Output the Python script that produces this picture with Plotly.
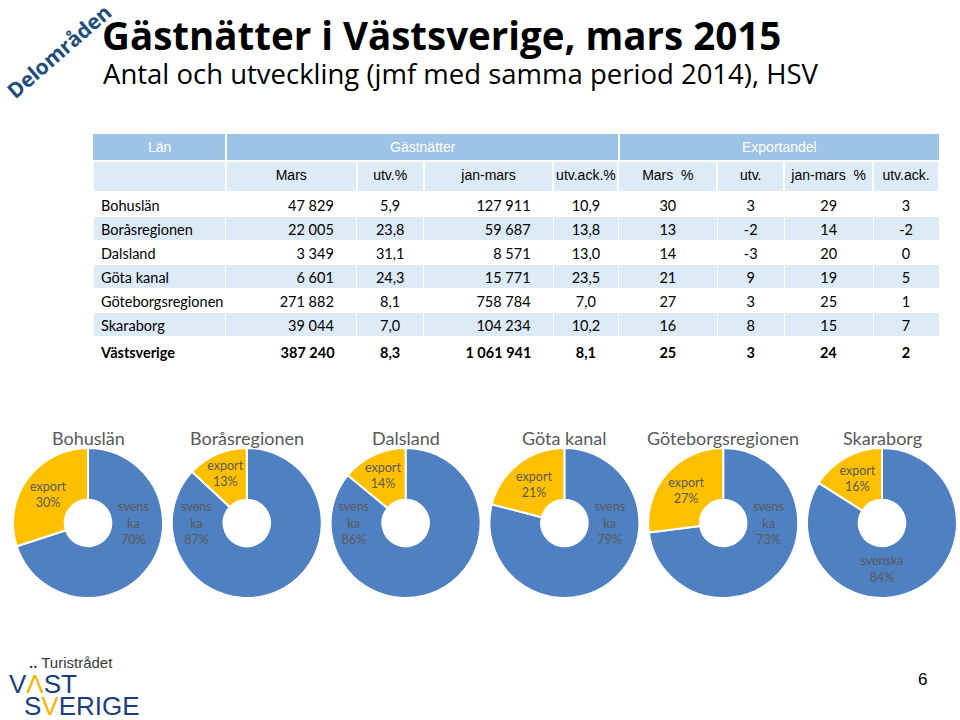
import plotly.graph_objects as go

# ---------------- data ----------------
regions = ["Bohuslän", "Boråsregionen", "Dalsland", "Göta kanal",
           "Göteborgsregionen", "Skaraborg", "Västsverige"]
mars = [47829, 22005, 3349, 6601, 271882, 39044, 387240]
utv = [5.9, 23.8, 31.1, 24.3, 8.1, 7.0, 8.3]
jan_mars = [127911, 59687, 8571, 15771, 758784, 104234, 1061941]
utv_ack = [10.9, 13.8, 13.0, 23.5, 7.0, 10.2, 8.1]
exp_mars = [30, 13, 14, 21, 27, 16, 25]
exp_utv = [3, -2, -3, 9, 3, 8, 3]
exp_jan_mars = [29, 14, 20, 19, 25, 15, 24]
exp_utv_ack = [3, -2, 0, 5, 1, 7, 2]

top_headers = ["Län", "Gästnätter", "Exportandel"]
sub_headers = ["", "Mars", "utv.%", "jan-mars", "utv.ack.%",
               "Mars\u00a0\u00a0%", "utv.", "jan-mars\u00a0\u00a0%", "utv.ack."]

pie_regions = ["Bohuslän", "Boråsregionen", "Dalsland", "Göta kanal",
               "Göteborgsregionen", "Skaraborg"]
pie_svenska = [70, 87, 86, 79, 73, 84]
pie_export = [30, 13, 14, 21, 27, 16]
pie_svenska_text = ["svens<br>ka", "svens<br>ka", "svens<br>ka", "svens<br>ka",
                    "svens<br>ka", "svenska"]

# ---------------- helpers ----------------
W, H = 960, 720
NB = "\u00a0"


def px(x):
    return x / W


def py(y):
    return 1 - y / H


def fmt_int(v):
    return f"{v:,}".replace(",", " ")


def fmt_dec(v):
    return f"{v:.1f}".replace(".", ",")


def bold_last(col):
    return [f"<b>{t}</b>" if i == len(col) - 1 else t for i, t in enumerate(col)]


cols = [
    regions,
    [fmt_int(v) + NB * 4 for v in mars],
    [fmt_dec(v) for v in utv],
    [fmt_int(v) + NB * 4 for v in jan_mars],
    [fmt_dec(v) for v in utv_ack],
    [str(v) for v in exp_mars],
    [str(v) for v in exp_utv],
    [str(v) for v in exp_jan_mars],
    [str(v) for v in exp_utv_ack],
]
cols = [bold_last(c) for c in cols]

band = ["#FFFFFF" if i % 2 == 0 else "#DDEBF7" for i in range(len(regions))]
col_widths = [133, 131, 67, 130, 65, 99, 67, 89, 66]
body_font = "Lato, Carlito, Calibri, sans-serif"
head_font = "Liberation Sans Narrow, Arial Narrow, Liberation Sans, Arial, sans-serif"

fig = go.Figure()

# sub header + body
fig.add_trace(go.Table(
    domain=dict(x=[px(93), px(940)], y=[py(385), py(161)]),
    columnwidth=col_widths,
    header=dict(values=sub_headers, fill_color="#DDEBF7", height=31,
                line=dict(color="white", width=2),
                font=dict(family=head_font, size=14, color="black"),
                align="center"),
    cells=dict(values=cols,
               fill_color=[band] * len(cols),
               line=dict(color="white", width=1),
               height=24,
               font=dict(family=body_font, size=14.5, color="black"),
               align=["left", "right", "center", "right", "center",
                      "center", "center", "center", "center"]),
))

# donuts
cy, r = 523, 75
x0, step = 88, 158.8
annotations = []
for i, name in enumerate(pie_regions):
    cx = x0 + i * step
    fig.add_trace(go.Pie(
        domain=dict(x=[px(cx - r), px(cx + r)], y=[py(cy + r), py(cy - r)]),
        values=[pie_svenska[i], pie_export[i]],
        labels=["svenska", "export"],
        text=[pie_svenska_text[i], "export"],
        texttemplate="%{text}<br>%{percent:.0%}",
        textposition="inside",
        insidetextorientation="horizontal",
        textfont=dict(family=body_font, size=12.5, color="#595959"),
        marker=dict(colors=["#4E80C2", "#FFC000"], line=dict(color="white", width=2)),
        hole=0.31, sort=False, direction="clockwise", rotation=0,
        showlegend=False, hoverinfo="skip",
    ))
    annotations.append(dict(
        x=px(cx), y=py(438), xref="paper", yref="paper", showarrow=False,
        text=name, xanchor="center", yanchor="middle",
        font=dict(family=body_font, size=18, color="#595959")))

# spanning top header row of the table
shapes = []
top_bounds = [(93, 225), (227, 618), (620, 939)]
for (a, b), lab in zip(top_bounds, top_headers):
    shapes.append(dict(type="rect", xref="paper", yref="paper",
                       x0=px(a), x1=px(b), y0=py(160), y1=py(134),
                       fillcolor="#9DC3E6", line=dict(width=0), layer="below"))
    annotations.append(dict(x=px((a + b) / 2), y=py(147), xref="paper", yref="paper",
                            showarrow=False, xanchor="center", yanchor="middle",
                            text=lab,
                            font=dict(family=head_font, size=14, color="white")))

# titles and decorations
annotations += [
    dict(x=px(100), y=py(35), xref="paper", yref="paper", showarrow=False,
         xanchor="left", yanchor="middle",
         text="<b>Gästnätter i Västsverige, mars 2015</b>",
         font=dict(family="Open Sans, sans-serif", size=38.5, color="black")),
    dict(x=px(101), y=py(74), xref="paper", yref="paper", showarrow=False,
         xanchor="left", yanchor="middle",
         text="Antal och utveckling (jmf med samma period 2014), HSV",
         font=dict(family="Open Sans, sans-serif", size=27.5, color="black")),
    dict(x=px(59), y=py(51), xref="paper", yref="paper", showarrow=False,
         xanchor="center", yanchor="middle", textangle=-41,
         text="<b>Delområden</b>",
         font=dict(family="Open Sans, sans-serif", size=21, color="#1F4E79")),
    # logo
    dict(x=px(27), y=py(662), xref="paper", yref="paper", showarrow=False,
         xanchor="left", yanchor="middle",
         text="<b>..</b> Turistrådet",
         font=dict(family="Liberation Sans, sans-serif", size=15, color="#3A3A3A")),
    dict(x=px(7), y=py(684), xref="paper", yref="paper", showarrow=False,
         xanchor="left", yanchor="middle",
         text="V<span style='color:#F2B600'>Λ</span>ST",
         font=dict(family="Liberation Sans, sans-serif", size=26, color="#1B3E7D")),
    dict(x=px(22), y=py(706), xref="paper", yref="paper", showarrow=False,
         xanchor="left", yanchor="middle",
         text="S<span style='color:#F2B600'>V</span>ERIGE",
         font=dict(family="Liberation Sans, sans-serif", size=26, color="#1B3E7D")),
    dict(x=px(922), y=py(679), xref="paper", yref="paper", showarrow=False,
         xanchor="center", yanchor="middle", text="6",
         font=dict(family="Liberation Sans, Arial, sans-serif", size=17, color="black")),
]

fig.update_layout(
    width=W, height=H,
    margin=dict(l=0, r=0, t=0, b=0),
    paper_bgcolor="white", plot_bgcolor="white",
    annotations=annotations,
    shapes=shapes,
    uniformtext=dict(minsize=12, mode="show"),
)

fig.write_html("out.html", config={"displayModeBar": False},
               post_script="document.body.style.margin='0';")
